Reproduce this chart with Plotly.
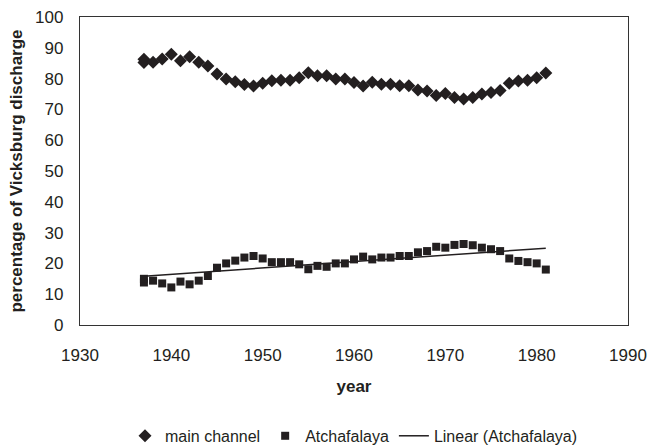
import numpy as np
import plotly.graph_objects as go

years = [1937, 1937, 1938, 1939, 1940, 1941, 1942, 1943, 1944, 1945, 1946, 1947, 1948, 1949,
         1950, 1951, 1952, 1953, 1954, 1955, 1956, 1957, 1958, 1959, 1960, 1961, 1962,
         1963, 1964, 1965, 1966, 1967, 1968, 1969, 1970, 1971, 1972, 1973, 1974, 1975,
         1976, 1977, 1978, 1979, 1980, 1981]
main_channel = [86.3, 85.2, 85.3, 86.4, 87.9, 85.8, 87.1, 85.3, 84.1, 81.5, 79.9, 79.0, 78.1, 77.6,
                78.5, 79.3, 79.5, 79.5, 80.3, 81.9, 80.9, 80.9, 79.9, 79.9, 78.7, 77.6, 78.8,
                78.2, 78.2, 77.7, 77.7, 76.3, 76.0, 74.5, 75.2, 73.9, 73.4, 73.9, 75.0, 75.5,
                76.1, 78.5, 79.2, 79.5, 80.3, 81.8]
atchafalaya = [13.8, 15.0, 14.4, 13.5, 12.2, 14.1, 13.2, 14.4, 15.9, 18.6, 20.0, 20.9, 21.9, 22.4,
               21.6, 20.4, 20.4, 20.4, 19.7, 18.1, 19.2, 18.9, 20.0, 20.0, 21.3, 22.2, 21.3,
               21.9, 21.9, 22.4, 22.4, 23.6, 24.0, 25.4, 25.1, 26.0, 26.3, 25.9, 25.1, 24.6,
               24.0, 21.6, 20.8, 20.4, 20.0, 18.0]

x_ticks = [1930, 1940, 1950, 1960, 1970, 1980, 1990]
y_ticks = [0, 10, 20, 30, 40, 50, 60, 70, 80, 90, 100]

slope, intercept = np.polyfit(years, atchafalaya, 1)
trend_x = [min(years), max(years)]
trend_y = [slope * v + intercept for v in trend_x]

mark = "#231f20"
font = "Liberation Sans, Arial, sans-serif"

fig = go.Figure()
fig.add_trace(go.Scatter(x=years, y=main_channel, mode="markers", name="main channel",
                         marker=dict(symbol="diamond", size=10, color=mark)))
fig.add_trace(go.Scatter(x=years, y=atchafalaya, mode="markers", name="Atchafalaya",
                         marker=dict(symbol="square", size=8, color=mark)))
fig.add_trace(go.Scatter(x=trend_x, y=trend_y, mode="lines", name="Linear (Atchafalaya)",
                         line=dict(color=mark, width=1.5)))

fig.update_layout(
    width=650, height=445,
    margin=dict(l=80, r=22, t=17, b=120, autoexpand=False),
    paper_bgcolor="white", plot_bgcolor="white",
    font=dict(family=font, size=16, color="#231f20"),
    showlegend=True,
    legend=dict(orientation="h", x=0.5, xanchor="center", y=-0.36, yanchor="middle",
                font=dict(size=16), itemwidth=30, tracegroupgap=0),
    xaxis=dict(range=[1930, 1990], tickvals=x_ticks, showgrid=False, zeroline=False,
               showline=True, linecolor="#333", linewidth=1.3, mirror=True,
               ticks="", ticklabelstandoff=14, ticklabeloverflow="allow",
               tickfont=dict(size=17), automargin=False,
               title=dict(text="<b>year</b>", standoff=16, font=dict(size=17))),
    yaxis=dict(range=[0, 100], tickvals=y_ticks, showgrid=False, zeroline=False,
               showline=True, linecolor="#333", linewidth=1.3, mirror=True,
               ticks="", ticklabelstandoff=12, ticklabeloverflow="allow",
               tickfont=dict(size=17), automargin=False,
               title=dict(text="<b>percentage of Vicksburg discharge</b>", standoff=8,
                          font=dict(size=17))),
)

fig.write_html("out.html", config={"displayModeBar": False},
               post_script="document.body.style.margin='0';")
